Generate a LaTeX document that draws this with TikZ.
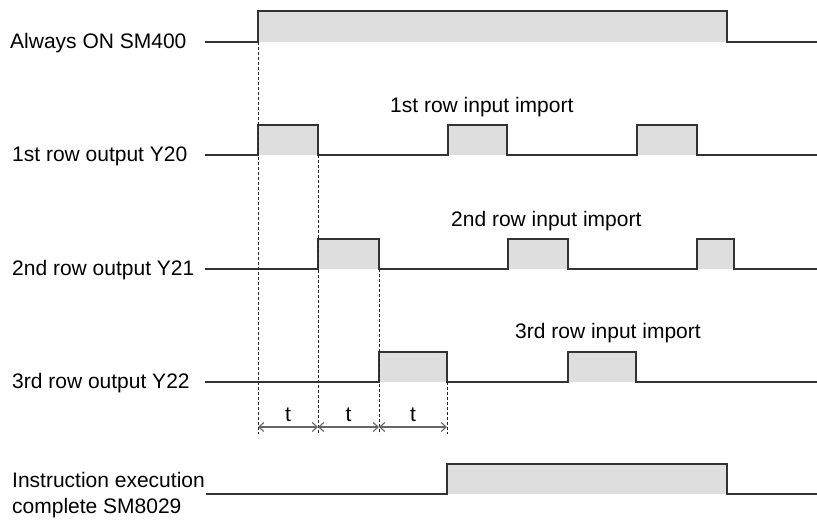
\documentclass[tikz,border=0pt]{standalone}
\usepackage{fontspec}
\setmainfont{Liberation Sans}
\usetikzlibrary{arrows.meta}
\begin{document}
\begin{tikzpicture}[x=1pt,y=-1pt,
  wave/.style={draw=black!80,line width=1.2pt,line join=miter},
  pulsefill/.style={fill=black!13,draw=none},
  guide/.style={draw=black!85,line width=0.8pt,dash pattern=on 3pt off 2pt},
  dim/.style={draw=black!60,line width=1.1pt,{Straight Barb[length=5pt,width=9pt]}-{Straight Barb[length=5pt,width=9pt]}},
  lbl/.style={font=\fontsize{21}{26}\selectfont,anchor=base west,inner sep=0pt},
  clbl/.style={font=\fontsize{21}{26}\selectfont,anchor=base,inner sep=0pt}]
\useasboundingbox (0,0) rectangle (817,520);

% fills
\fill[pulsefill] (258,11) rectangle (727,42);
\fill[pulsefill] (258,125) rectangle (318,155);
\fill[pulsefill] (448,125) rectangle (507,155);
\fill[pulsefill] (637,125) rectangle (697,155);
\fill[pulsefill] (318,239) rectangle (379,269);
\fill[pulsefill] (508,239) rectangle (568,269);
\fill[pulsefill] (697,239) rectangle (734,269);
\fill[pulsefill] (379,352) rectangle (447,382);
\fill[pulsefill] (568,352) rectangle (636,382);
\fill[pulsefill] (447,464) rectangle (727,494);

% waveforms
\draw[wave] (205,42) -- (258,42) -- (258,11) -- (727,11) -- (727,42) -- (817,42);
\draw[wave] (205,155) -- (258,155) -- (258,125) -- (318,125) -- (318,155)
  -- (448,155) -- (448,125) -- (507,125) -- (507,155)
  -- (637,155) -- (637,125) -- (697,125) -- (697,155) -- (817,155);
\draw[wave] (205,269) -- (318,269) -- (318,239) -- (379,239) -- (379,269)
  -- (508,269) -- (508,239) -- (568,239) -- (568,269)
  -- (697,269) -- (697,239) -- (734,239) -- (734,269) -- (817,269);
\draw[wave] (205,382) -- (379,382) -- (379,352) -- (447,352) -- (447,382)
  -- (568,382) -- (568,352) -- (636,352) -- (636,382) -- (817,382);
\draw[wave] (206,494) -- (447,494) -- (447,464) -- (727,464) -- (727,494) -- (817,494);

% guide coordinates
\coordinate (g0) at (258,42);
\coordinate (g1) at (318,155);
\coordinate (g2) at (379,269);
\coordinate (g3) at (447,382);
\coordinate (e0) at (258,434);
\coordinate (e1) at (318,434);
\coordinate (e2) at (379,434);
\coordinate (e3) at (447,434);
\draw[guide] (g0) -- (e0);
\draw[guide] (g1) -- (e1);
\draw[guide] (g2) -- (e2);
\draw[guide] (g3) -- (e3);

\coordinate (d0) at (258,427);
\coordinate (d1) at (318,427);
\coordinate (d2) at (379,427);
\coordinate (d3) at (447,427);
\draw[dim] (d0) -- (d1);
\draw[dim] (d1) -- (d2);
\draw[dim] (d2) -- (d3);
\node[clbl] (t1) at (288,421.5) {t};
\node[clbl] (t2) at (348.5,421.5) {t};
\node[clbl] (t3) at (413,421.5) {t};

% labels
\node[lbl] (l0) at (10,48.5) {Always ON SM400};
\node[lbl] (l1) at (12,161.5) {1st row output Y20};
\node[lbl] (l2) at (12,275.5) {2nd row output Y21};
\node[lbl] (l3) at (12,388.5) {3rd row output Y22};
\node[lbl] (l4) at (12,487) {Instruction execution};
\node[lbl] (l5) at (12,513) {complete SM8029};

\node[lbl] (i1) at (390,112.3) {1st row input import};
\node[lbl] (i2) at (451,226.7) {2nd row input import};
\node[lbl] (i3) at (515,338.5) {3rd row input import};
\end{tikzpicture}
\end{document}
